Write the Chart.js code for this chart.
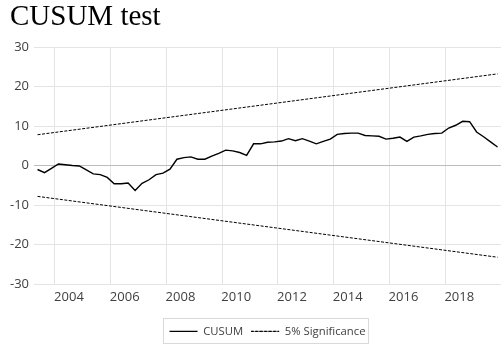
<!DOCTYPE html>
<html>
<head>
<meta charset="utf-8">
<script src="https://cdn.jsdelivr.net/npm/chart.js@4"></script>
<style>
  html, body { margin: 0; padding: 0; background: #ffffff; }
  #wrap { width: 501px; height: 347px; position: relative; }
</style>
</head>
<body>
<div id="wrap"><canvas id="cusum"></canvas></div>
<script>
// Quarterly observations of the CUSUM statistic
const quarters = [
  '2003Q2','2003Q3','2003Q4',
  '2004Q1','2004Q2','2004Q3','2004Q4',
  '2005Q1','2005Q2','2005Q3','2005Q4',
  '2006Q1','2006Q2','2006Q3','2006Q4',
  '2007Q1','2007Q2','2007Q3','2007Q4',
  '2008Q1','2008Q2','2008Q3','2008Q4',
  '2009Q1','2009Q2','2009Q3','2009Q4',
  '2010Q1','2010Q2','2010Q3','2010Q4',
  '2011Q1','2011Q2','2011Q3','2011Q4',
  '2012Q1','2012Q2','2012Q3','2012Q4',
  '2013Q1','2013Q2','2013Q3','2013Q4',
  '2014Q1','2014Q2','2014Q3','2014Q4',
  '2015Q1','2015Q2','2015Q3','2015Q4',
  '2016Q1','2016Q2','2016Q3','2016Q4',
  '2017Q1','2017Q2','2017Q3','2017Q4',
  '2018Q1','2018Q2','2018Q3','2018Q4',
  '2019Q1','2019Q2','2019Q3','2019Q4'
];

const cusum = [
  -1.0, -1.8, -0.7,
  0.4, 0.2, 0.0, -0.1,
  -1.1, -2.1, -2.3, -3.0,
  -4.6, -4.6, -4.4, -6.3,
  -4.5, -3.6, -2.3, -1.9,
  -0.9, 1.6, 2.0, 2.2,
  1.6, 1.6, 2.4, 3.1,
  3.9, 3.7, 3.3, 2.6,
  5.5, 5.5, 5.9, 6.0,
  6.2, 6.8, 6.3, 6.8,
  6.2, 5.5, 6.1, 6.7,
  7.9, 8.1, 8.2, 8.2,
  7.6, 7.5, 7.4, 6.7,
  6.9, 7.2, 6.1, 7.2,
  7.5, 7.9, 8.1, 8.2,
  9.5, 10.2, 11.2, 11.1,
  8.5, 7.3, 6.0, 4.7
];

// 5% significance bounds (straight lines between first and last quarter)
const boundQuarters = ['2003Q2', '2019Q4'];
const upperBound = [7.8, 23.2];
const lowerBound = [-7.8, -23.2];

// Axis labels
const yearTicks = [2004, 2006, 2008, 2010, 2012, 2014, 2016, 2018];
const yRange = [-30, 30];
const yStep = 10;

// Centre of a quarter on a decimal-year axis
function quarterPos(label) {
  const year = Number(label.slice(0, 4));
  const q = Number(label.slice(5));
  return year + (q - 1) / 4 + 0.125;
}

const tickFont = { family: "'Open Sans', sans-serif", size: 13 };
const legendFont = { family: "'Open Sans', sans-serif", size: 11.3 };

// Thin frame around the legend entries
const legendFrame = {
  id: 'legendFrame',
  afterDraw(chart) {
    const boxes = chart.legend && chart.legend.legendHitBoxes;
    if (!boxes || !boxes.length) return;
    let l = Infinity, r = -Infinity, t = Infinity, b = -Infinity;
    boxes.forEach(h => {
      l = Math.min(l, h.left); r = Math.max(r, h.left + h.width);
      t = Math.min(t, h.top); b = Math.max(b, h.top + h.height);
    });
    const ctx = chart.ctx;
    ctx.save();
    ctx.strokeStyle = '#d9d9d9';
    ctx.lineWidth = 1;
    ctx.setLineDash([]);
    ctx.strokeRect(Math.round(l - 7) + 0.5, Math.round(t - 8) + 0.5,
                   Math.round(r - l + 9), Math.round(b - t + 14));
    ctx.restore();
  }
};

new Chart(document.getElementById('cusum'), {
  type: 'line',
  data: {
    datasets: [
      {
        label: 'CUSUM',
        data: quarters.map((q, i) => ({ x: quarterPos(q), y: cusum[i] })),
        borderColor: '#000000',
        backgroundColor: '#000000',
        borderWidth: 1.4,
        pointRadius: 0,
        tension: 0
      },
      {
        label: '5% Significance',
        data: boundQuarters.map((q, i) => ({ x: quarterPos(q), y: upperBound[i] })),
        borderColor: '#000000',
        backgroundColor: '#000000',
        borderWidth: 1,
        borderDash: [3, 1.5],
        pointRadius: 0,
        tension: 0
      },
      {
        label: 'lower',
        data: boundQuarters.map((q, i) => ({ x: quarterPos(q), y: lowerBound[i] })),
        borderColor: '#000000',
        backgroundColor: '#000000',
        borderWidth: 1,
        borderDash: [3, 1.5],
        pointRadius: 0,
        tension: 0
      }
    ]
  },
  options: {
    responsive: true,
    maintainAspectRatio: false,
    animation: false,
    layout: { padding: { left: 10, right: 0, top: 0, bottom: 0 } },
    plugins: {
      title: {
        display: true,
        text: 'CUSUM test',
        align: 'start',
        color: '#000000',
        font: { family: "'Liberation Serif', 'Times New Roman', serif", size: 29, weight: 'normal', lineHeight: 1 },
        padding: { top: 3, bottom: 15 }
      },
      legend: {
        display: true,
        position: 'bottom',
        fullSize: false,
        title: { display: true, text: '', font: { size: 8, lineHeight: 1 }, padding: 0 },
        labels: {
          filter: item => item.datasetIndex !== 2,
          boxWidth: 28,
          boxHeight: 0,
          padding: 8,
          color: '#404040',
          font: legendFont
        }
      },
      tooltip: { enabled: false }
    },
    scales: {
      x: {
        type: 'linear',
        min: 2003.25,
        max: 2020,
        afterBuildTicks: scale => { scale.ticks = yearTicks.map(v => ({ value: v })); },
        ticks: {
          autoSkip: false,
          maxRotation: 0,
          labelOffset: 14,
          padding: 5,
          color: '#404040',
          font: tickFont,
          callback: v => String(v)
        },
        grid: { color: '#e4e4e4', drawTicks: false },
        border: { display: false }
      },
      y: {
        min: yRange[0],
        max: yRange[1],
        afterFit: scale => { scale.width -= 5; },
        ticks: { stepSize: yStep, padding: 5, color: '#404040', font: tickFont },
        grid: {
          color: ctx => (ctx.tick && ctx.tick.value === 0 ? '#bdbdbd' : '#e4e4e4'),
          drawTicks: false
        },
        border: { display: false }
      }
    }
  },
  plugins: [legendFrame]
});
</script>
</body>
</html>
